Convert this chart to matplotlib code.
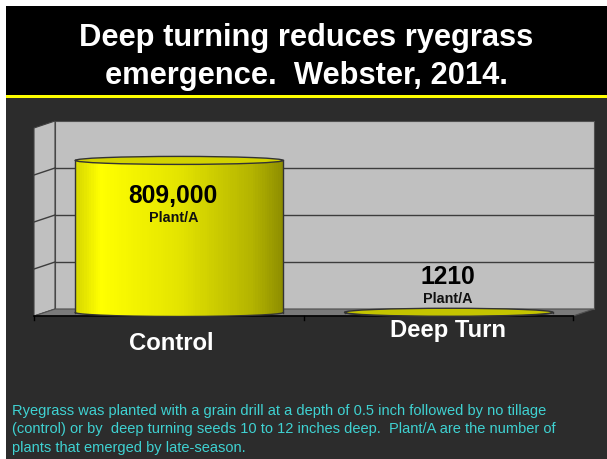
import numpy as np
import matplotlib
matplotlib.use('Agg')
import matplotlib.pyplot as plt
import matplotlib.transforms as mtransforms
from matplotlib.patches import Polygon, Ellipse, Rectangle
from matplotlib.lines import Line2D
from matplotlib.colors import LinearSegmentedColormap
from matplotlib import font_manager

# datos del grafico
categories = ['Control', 'Deep Turn']
plants = [809000, 1210]
value_labels = ['809,000', '1210']
unit_label = 'Plant/A'
y_max = 1000000
grid_step = 250000

title_lines = ['Deep turning reduces ryegrass', 'emergence.  Webster, 2014.']
note_lines = ['Ryegrass was planted with a grain drill at a depth of 0.5 inch followed by no tillage',
              '(control) or by  deep turning seeds 10 to 12 inches deep.  Plant/A are the number of',
              'plants that emerged by late-season.']

# colocacion manual de etiquetas (pixeles)
value_off = [(-6, -35), (-1, 36)]
cat_off = [(3, -26), (10, -13)]

W, H = 607, 460
fig = plt.figure(figsize=(W / 100, H / 100), dpi=100)
fig.patch.set_facecolor('#2c2c2c')

names = {f.name for f in font_manager.fontManager.ttflist}
narrow = 'Liberation Sans Narrow' in names
sans = 'Liberation Sans'

# fondo
bg = fig.add_axes([0, 0, 1, 1])
bg.set_xlim(0, W)
bg.set_ylim(H, 0)
bg.axis('off')
grad = np.linspace(0, 1, 200).reshape(-1, 1)
cm_bg = LinearSegmentedColormap.from_list('bg', ['#1a1a1a', '#303030'])
bg.add_patch(Rectangle((0, 90), W, H, color='#2c2c2c', lw=0))
bg.imshow(grad, cmap=cm_bg, extent=[0, W + 2, H + 2, 98], aspect='auto')
bg.set_xlim(0, W)
bg.set_ylim(H, 0)
bg.add_patch(Rectangle((6, 7), W, 89, color='black', lw=0))
bg.add_patch(Rectangle((6, 95.5), W, 3, color='#ffff00', lw=0))
bg.add_patch(Rectangle((0, 0), 6, H, color='white', lw=0))
bg.add_patch(Rectangle((0, 0), W, 7, color='white', lw=0))

# ejes del plano frontal
x0, x1, yb, yt = 34, 573, 317, 129
ax = fig.add_axes([x0 / W, (H - yb) / H, (x1 - x0) / W, (yb - yt) / H])
ax.set_xlim(-0.5, 1.5)
ax.set_ylim(0, y_max)
ax.axis('off')
dx, dy = 21, 7
ident = mtransforms.IdentityTransform()


def px(x, y, d=0.0):
    X, Y = ax.transData.transform((x, y))
    return (X + d * dx, Y + d * dy)


def linea(p, q, color='#3c3c3c', lw=1.0):
    ax.add_artist(Line2D([p[0], q[0]], [p[1], q[1]], color=color, lw=lw,
                         transform=ident, clip_on=False))


# paredes y piso
ax.add_patch(Polygon([px(-0.5, 0, 1), px(1.5, 0, 1), px(1.5, y_max, 1), px(-0.5, y_max, 1)],
                     closed=True, fc='#c0c0c0', ec='#505050', lw=0.8, transform=ident, clip_on=False))
ax.add_patch(Polygon([px(-0.5, 0), px(-0.5, y_max), px(-0.5, y_max, 1), px(-0.5, 0, 1)],
                     closed=True, fc='#c0c0c0', ec='#404040', lw=0.8, transform=ident, clip_on=False))
ax.add_patch(Polygon([px(-0.5, 0), px(1.5, 0), px(1.5, 0, 1), px(-0.5, 0, 1)],
                     closed=True, fc='#7a7a7a', ec='#505050', lw=0.8, transform=ident, clip_on=False))
for g in range(grid_step, y_max, grid_step):
    linea(px(-0.5, g, 1), px(1.5, g, 1))
    linea(px(-0.5, g), px(-0.5, g, 1))
linea(px(-0.5, 0), px(1.5, 0), color='black', lw=1.2)
for xb in [-0.5, 0.5, 1.5]:
    p = px(xb, 0)
    linea(p, (p[0], p[1] - 4), color='black', lw=1.0)

# cilindros
bw = 0.772
n = 90
cm_cyl = LinearSegmentedColormap.from_list(
    'cyl', [(0, '#d6d600'), (0.12, '#ffff00'), (0.5, '#e4e400'), (0.85, '#b4b400'), (1, '#8e8e00')])
top_fc = ['#d2d200', '#c4c400']
upp = y_max / (yb - yt)
e = 4 * upp
mid = ax.transData + mtransforms.Affine2D().translate(dx / 2, dy / 2)
u = (np.arange(n) + 0.5) / n
for i, v in enumerate(plants):
    xs = i - bw / 2 + u * bw
    sag = e * np.sqrt(1 - (2 * u - 1) ** 2)
    ax.bar(xs, v, width=bw / n * 1.15, bottom=-sag, color=cm_cyl(u), lw=0,
           transform=mid, clip_on=False, zorder=3)
    uu = np.linspace(0, 1, 200)
    ax.plot(i - bw / 2 + uu * bw, -e * np.sqrt(1 - (2 * uu - 1) ** 2), color='#333333', lw=1,
            transform=mid, clip_on=False, zorder=4)
    for xe in [i - bw / 2, i + bw / 2]:
        ax.plot([xe, xe], [0, v], color='#333333', lw=1, transform=mid, clip_on=False, zorder=4)
    ax.add_patch(Ellipse((i, v), bw, 2 * e, fc=top_fc[i], ec='#333333', lw=1,
                         transform=mid, clip_on=False, zorder=5))

    ox, oy = value_off[i]
    ax.annotate(value_labels[i], xy=(i, v), xycoords=mid, xytext=(ox, oy), textcoords='offset pixels',
                ha='center', va='center', fontsize=17.7, fontweight='bold', family=sans,
                color='black', zorder=6, annotation_clip=False)
    ax.annotate(unit_label, xy=(i, v), xycoords=mid, xytext=(ox, oy - 22), textcoords='offset pixels',
                ha='center', va='center', fontsize=10.4, fontweight='bold', family=sans,
                color='#111111', zorder=6, annotation_clip=False)
    cx, cy = cat_off[i]
    ax.annotate(categories[i], xy=(i, 0), xycoords='data', xytext=(cx, cy), textcoords='offset pixels',
                ha='center', va='center', fontsize=17.2, fontweight='bold', family=sans,
                color='white', zorder=6, annotation_clip=False)

# titulo
for k, t in enumerate(title_lines):
    fig.text(306 / W, 1 - (46 + 38 * k) / H, t, ha='center', va='baseline', color='white',
             fontsize=22.2, fontweight='bold', family=sans)

# nota
if narrow:
    nfam, nsize = 'Liberation Sans Narrow', 11.2
else:
    nfam, nsize = sans, 10.5
for k, t in enumerate(note_lines):
    fig.text(12 / W, 1 - (415 + 18.5 * k) / H, t, ha='left', va='baseline', color='#3fd2d2',
             fontsize=nsize, family=nfam)

fig.savefig('out.png', dpi=100, facecolor=fig.get_facecolor())
